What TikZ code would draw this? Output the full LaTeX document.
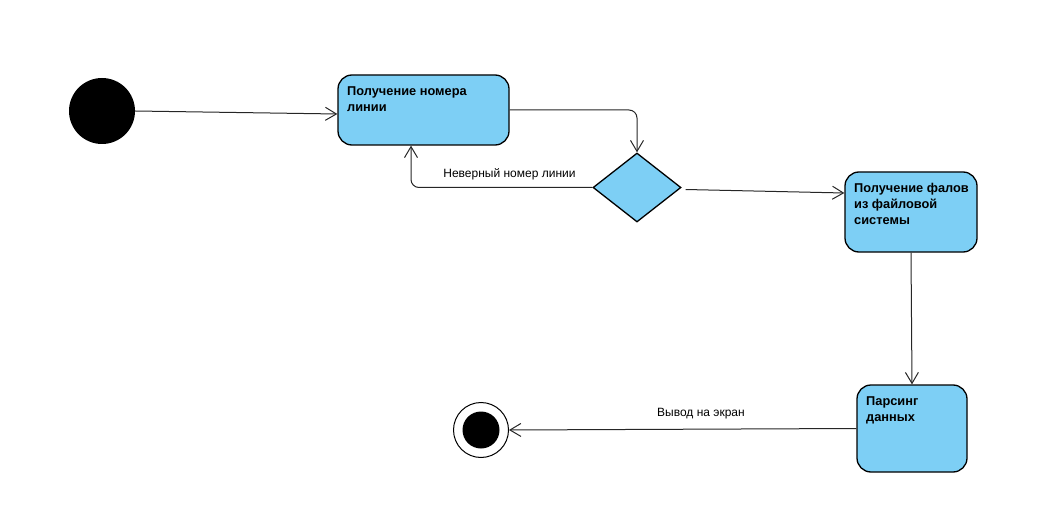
\documentclass[tikz,border=0pt]{standalone}
\usepackage{fontspec}
\setmainfont{Liberation Sans}
\usetikzlibrary{arrows.meta,shapes.geometric,calc}
\definecolor{stfill}{RGB}{125,207,245}
\begin{document}
\begin{tikzpicture}[x=1pt,y=-1pt,
  statebox/.style={draw=black, line width=1.3pt, fill=stfill, rounded corners=14pt, inner sep=0pt},
  boxtext/.style={anchor=north west, align=left, inner sep=0pt, font=\fontsize{12.8}{16}\selectfont\bfseries},
  lbl/.style={anchor=base, inner sep=0pt, font=\fontsize{12}{15}\selectfont},
  arr/.style={draw=black!85, line width=1pt, -{Straight Barb[length=11pt,width=13pt,line width=1pt]}}]
\useasboundingbox (0,0) rectangle (1050,524);
% initial state
\node[circle, fill=black, minimum size=66pt, inner sep=0pt] (start) at (102,111) {};
% boxes
\node[statebox, minimum width=171pt, minimum height=70pt] (b1) at (423.5,110) {};
\node[boxtext] (t1) at (347,86) {Получение номера\\линии};
\node[diamond, draw=black, line width=1.3pt, fill=stfill, minimum width=88pt, minimum height=69pt, inner sep=0pt] (d) at (637,187.5) {};
\node[statebox, minimum width=132pt, minimum height=80pt] (b3) at (911,212) {};
\node[boxtext] (t3) at (854,183) {Получение фалов\\из файловой\\системы};
\node[statebox, minimum width=110pt, minimum height=87pt] (b4) at (912,428.5) {};
\node[boxtext] (t4) at (866,396) {Парсинг\\данных};
% final state
\node[circle, draw=black, line width=1pt, fill=white, minimum size=55pt, inner sep=0pt] (end) at (481,430) {};
\node[circle, fill=black, minimum size=37pt, inner sep=0pt] (endin) at (end.center) {};
% connectors
\draw[arr] (start.east) -- ($(b1.west)+(0,4)$);
\draw[arr, rounded corners=8pt] (b1.east) -| (d.north);
\draw[arr, rounded corners=8pt] (d.west) -| ($(b1.south)+(-12.5,0)$);
\node[lbl] (l1) at (509.5,178) {Неверный номер линии};
\draw[arr] ($(d.east)+(4,2)$) -- ($(b3.west)+(0,-19)$);
\draw[arr] (b3.south) -- (b4.north);
\draw[arr] (b4.west) -- (end.east);
\node[lbl] (l2) at (701,416) {Вывод на экран};
\end{tikzpicture}
\end{document}
